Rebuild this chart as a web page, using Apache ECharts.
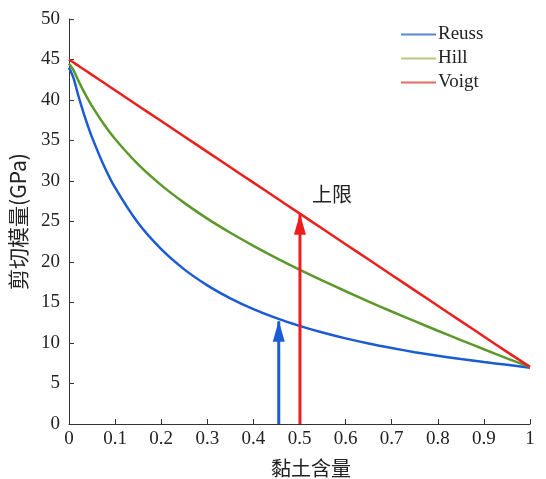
<!DOCTYPE html>
<html>
<head>
<meta charset="utf-8">
<script src="https://cdn.jsdelivr.net/npm/echarts@6/dist/echarts.min.js"></script>
<style>
  html, body { margin: 0; padding: 0; background: #fff; }
  #chart { width: 546px; height: 479px; }
</style>
</head>
<body>
<div id="chart"></div>
<script>
// 黏土含量 (x)
var clay = [0, 0.01, 0.02, 0.03, 0.04, 0.05, 0.075, 0.1, 0.15, 0.2, 0.25, 0.3, 0.35, 0.4, 0.45, 0.5,
  0.55, 0.6, 0.65, 0.7, 0.75, 0.8, 0.85, 0.9, 0.95, 1]
var reuss = [44.0, 42.68, 40.59, 38.70, 36.97, 35.39, 31.98, 29.17, 24.80, 21.58, 19.09, 17.12, 15.52,
  14.19, 13.07, 12.12, 11.29, 10.57, 9.94, 9.38, 8.87, 8.42, 8.02, 7.65, 7.31, 6.95]
var hill = [44.5, 43.65, 42.42, 41.28, 40.23, 39.25, 37.07, 35.19, 32.05, 29.49, 27.30, 25.36, 23.61,
  22.00, 20.49, 19.06, 17.70, 16.39, 15.12, 13.89, 12.69, 11.51, 10.36, 9.23, 8.11, 7.05]
var voigt = [45.0, 44.62, 44.24, 43.86, 43.48, 43.10, 42.15, 41.20, 39.30, 37.40, 35.50, 33.60, 31.70,
  29.80, 27.90, 26.00, 24.10, 22.20, 20.30, 18.40, 16.50, 14.60, 12.70, 10.80, 8.90, 7.05]
// 箭头: [x, 顶端值]
var arrowReuss = [0.455, 12.7]
var arrowVoigt = [0.501, 25.9]

var serif = '"Liberation Serif", "DejaVu Serif", serif'
var cjk = '"Noto Sans CJK SC", sans-serif'

function pairs (ys) {
  return clay.map(function (x, i) { return [x, ys[i]] })
}

function arrow (name, pt, color) {
  return {
    name: name,
    type: 'line',
    silent: true,
    z: 5,
    lineStyle: { color: color, width: 3 },
    itemStyle: { color: color },
    data: [
      { value: [pt[0], 0], symbol: 'none' },
      { value: [pt[0], pt[1]], symbol: 'triangle', symbolSize: [12, 21], symbolOffset: [0, 10] }
    ]
  }
}

function curve (name, ys, color, legendColor) {
  return {
    name: name,
    type: 'line',
    smooth: 0.3,
    symbol: 'none',
    lineStyle: { color: color, width: 2.5 },
    itemStyle: { color: legendColor },
    data: pairs(ys)
  }
}

var myChart = echarts.init(document.getElementById('chart'))
var option = {
  animation: false,
  grid: { left: 69, right: 16, top: 19, bottom: 55, outerBoundsMode: 'none', containLabel: false },
  legend: {
    data: ['Reuss', 'Hill', 'Voigt'],
    orient: 'vertical',
    left: 396,
    top: 20,
    itemWidth: 35,
    itemHeight: 2,
    itemGap: 5,
    icon: 'rect',
    textStyle: { fontFamily: serif, fontSize: 19, color: '#222', padding: [0, 0, 0, -3] }
  },
  xAxis: {
    type: 'value',
    min: 0,
    max: 1,
    interval: 0.1,
    name: '黏土含量',
    nameLocation: 'middle',
    nameGap: 34,
    nameTextStyle: { fontFamily: cjk, fontSize: 20, color: '#222', padding: [0, 0, 0, 23] },
    axisLine: { show: true, lineStyle: { color: '#333', width: 1 } },
    axisTick: { show: true, inside: true, length: 5, lineStyle: { color: '#333' } },
    axisLabel: { fontFamily: serif, fontSize: 19, color: '#222', margin: 6 },
    splitLine: { show: false }
  },
  yAxis: {
    type: 'value',
    min: 0,
    max: 50,
    interval: 5,
    name: '剪切模量(GPa)',
    nameLocation: 'middle',
    nameGap: 40,
    nameTextStyle: { fontFamily: cjk, fontSize: 21, color: '#222' },
    axisLine: { show: true, lineStyle: { color: '#333', width: 1 } },
    axisTick: { show: true, inside: true, length: 5, lineStyle: { color: '#333' } },
    axisLabel: { fontFamily: serif, fontSize: 19, color: '#222', margin: 9 },
    splitLine: { show: false }
  },
  graphic: [
    {
      type: 'text',
      left: 312,
      top: 184,
      style: { text: '上限', font: '20px "Noto Sans CJK SC", sans-serif', fill: '#222' }
    }
  ],
  series: [
    curve('Reuss', reuss, '#1b5bd4', '#5b86d6'),
    curve('Hill', hill, '#5b9a2a', '#b8c97a'),
    curve('Voigt', voigt, '#e8211e', '#e46a5e'),
    arrow('arrowR', arrowReuss, '#1b5bd4'),
    arrow('arrowV', arrowVoigt, '#ee1c1c')
  ]
}
myChart.setOption(option)
</script>
</body>
</html>
